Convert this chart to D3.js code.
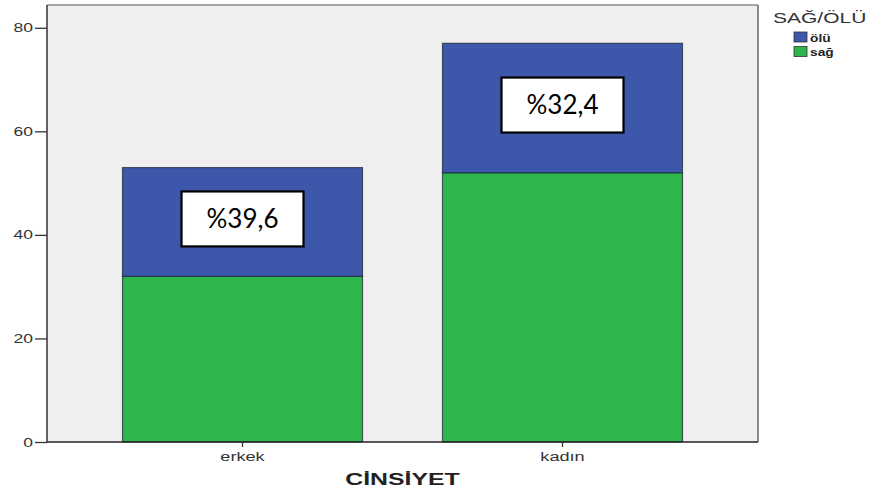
<!DOCTYPE html>
<html>
<head>
<meta charset="utf-8">
<script src="https://cdn.jsdelivr.net/npm/d3@7"></script>
<style>
  body { margin: 0; background: #fff; }
  svg { font-family: "Liberation Sans", Arial, sans-serif; }
</style>
</head>
<body>
<svg id="chart" width="876" height="493"></svg>
<script>
// data
var categories = ["erkek", "kadın"];
var sagValues = [32, 52];
var oluValues = [21, 25];
var percentLabels = ["%39,6", "%32,4"];
var yTicks = [0, 20, 40, 60, 80];
var legendNames = ["ölü", "sağ"];

var svg = d3.select("#chart"),
    PLOT = { left: 47, right: 758, top: 5, bottom: 442 },
    COLORS = { "ölü": "#3d57aa", "sağ": "#2db64b" };

// the original picture is stretched sideways, so widen the text to match
function stretch(sel, k) {
  sel.each(function() {
    var w = this.getComputedTextLength();
    d3.select(this).attr("textLength", w * k).attr("lengthAdjust", "spacingAndGlyphs");
  });
}

var xScale = d3.scaleBand()
    .domain(categories)
    .range([PLOT.left, PLOT.right])
    .paddingInner(0.25)
    .paddingOuter(0.236);

var yScale = d3.scaleLinear()
    .domain([0, 84.4])
    .range([PLOT.bottom, PLOT.top]);

// plot background
svg.append("rect")
  .attr("x", PLOT.left).attr("y", PLOT.top)
  .attr("width", PLOT.right - PLOT.left).attr("height", PLOT.bottom - PLOT.top)
  .attr("fill", "#efefef");

var rows = categories.map(function(c, i) {
  return { cat: c, sag: sagValues[i], olu: oluValues[i], label: percentLabels[i] };
});

var stack = d3.stack().keys(["sag", "olu"])(rows);

svg.append("g").selectAll("g")
  .data(stack)
  .join("g")
    .attr("fill", function(d) { return d.key == "sag" ? COLORS["sağ"] : COLORS["ölü"]; })
  .selectAll("rect")
  .data(function(d) { return d; })
  .join("rect")
    .attr("x", function(d) { return xScale(d.data.cat); })
    .attr("y", function(d) { return yScale(d[1]); })
    .attr("width", xScale.bandwidth())
    .attr("height", function(d) { return yScale(d[0]) - yScale(d[1]); })
    .attr("stroke", "#1e2a3a")
    .attr("stroke-opacity", 0.75)
    .attr("stroke-width", 1.2);

// frame: top and right grey, left and bottom dark
svg.append("line").attr("x1", PLOT.left).attr("x2", PLOT.right).attr("y1", PLOT.top).attr("y2", PLOT.top)
  .attr("stroke", "#8a8a8a").attr("stroke-width", 1.5);
svg.append("line").attr("x1", PLOT.right).attr("x2", PLOT.right).attr("y1", PLOT.top).attr("y2", PLOT.bottom)
  .attr("stroke", "#8a8a8a").attr("stroke-width", 2);
svg.append("line").attr("x1", PLOT.left).attr("x2", PLOT.left).attr("y1", PLOT.top).attr("y2", PLOT.bottom)
  .attr("stroke", "#333").attr("stroke-width", 1.5);
svg.append("line").attr("x1", PLOT.left).attr("x2", PLOT.right).attr("y1", PLOT.bottom).attr("y2", PLOT.bottom)
  .attr("stroke", "#222").attr("stroke-width", 1.5);

// axes
var yAxis = d3.axisLeft(yScale).tickValues(yTicks).tickSize(12).tickPadding(2);
var yG = svg.append("g")
  .attr("transform", "translate(" + PLOT.left + ",0)")
  .call(yAxis);
yG.select(".domain").remove();
yG.selectAll("line").attr("stroke", "#333").attr("stroke-width", 1.3);
yG.selectAll("text").attr("font-size", 12.5).attr("fill", "#333").attr("font-family", null).call(stretch, 1.4);

var xAxis = d3.axisBottom(xScale).tickSize(5).tickPadding(5);
var xG = svg.append("g")
  .attr("transform", "translate(0," + PLOT.bottom + ")")
  .call(xAxis);
xG.select(".domain").remove();
xG.selectAll("line").attr("stroke", "#333").attr("stroke-width", 1.3);
xG.selectAll("text").attr("font-size", 12.5).attr("fill", "#333").attr("font-family", null).call(stretch, 1.45);

svg.append("text")
  .attr("x", (PLOT.left + PLOT.right) / 2)
  .attr("y", 485)
  .attr("text-anchor", "middle")
  .attr("font-size", 16)
  .attr("font-weight", "bold")
  .attr("fill", "#222")
  .text("CİNSİYET")
  .call(stretch, 1.55);

// percentage boxes in the middle of the ölü segment
var BOX_W = 122, BOX_H = 55;
var notes = svg.append("g").selectAll("g")
  .data(rows)
  .join("g")
    .attr("transform", function(d) {
      return "translate(" + (xScale(d.cat) + xScale.bandwidth() / 2) + "," + (yScale(d.sag + d.olu / 2) - 3) + ")";
    });
notes.append("rect")
  .attr("x", -BOX_W / 2).attr("y", -BOX_H / 2)
  .attr("width", BOX_W).attr("height", BOX_H)
  .attr("fill", "#fff").attr("stroke", "#000").attr("stroke-width", 2.2);
notes.append("text")
  .attr("text-anchor", "middle")
  .attr("dy", "0.36em")
  .style("font-family", "Lato, 'Open Sans', sans-serif")
  .attr("font-size", 26)
  .attr("fill", "#000")
  .attr("textLength", 72)
  .attr("lengthAdjust", "spacingAndGlyphs")
  .text(function(d) { return d.label; });

// legend
svg.append("text")
  .attr("x", 773).attr("y", 23)
  .attr("font-size", 14)
  .attr("fill", "#333")
  .text("SAĞ/ÖLÜ")
  .call(stretch, 1.5);

var legend = svg.append("g").selectAll("g")
  .data(legendNames)
  .join("g")
    .attr("transform", function(d, i) { return "translate(794," + (32 + i * 14.5) + ")"; });
legend.append("rect")
  .attr("width", 13).attr("height", 10)
  .attr("fill", function(d) { return COLORS[d]; })
  .attr("stroke", "#333").attr("stroke-width", 0.8);
legend.append("text")
  .attr("x", 16).attr("y", 9.5)
  .attr("font-size", 11)
  .attr("font-weight", "bold")
  .attr("fill", "#222")
  .text(function(d) { return d; })
  .call(stretch, 1.25);
</script>
</body>
</html>
